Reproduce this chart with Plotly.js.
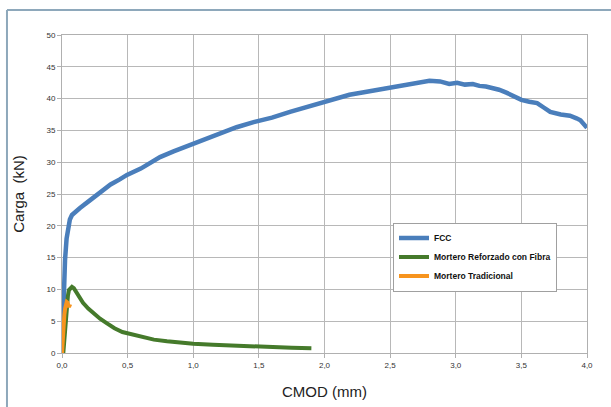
<!DOCTYPE html>
<html>
<head>
<meta charset="utf-8">
<script src="https://cdn.plot.ly/plotly-3.0.1.min.js"></script>
<style>html,body{margin:0;padding:0;background:#fff;}#chart{width:611px;height:407px;}</style>
</head>
<body>
<div id="chart"></div>
<script>
// FCC
const fccX = [0, 0.005, 0.012, 0.023, 0.035, 0.046, 0.06, 0.076, 0.1, 0.137, 0.2, 0.236, 0.29, 0.31, 0.37, 0.44, 0.495, 0.6, 0.747, 0.85, 0.975, 1.1, 1.2, 1.33, 1.46, 1.6, 1.737, 1.85, 1.966, 2.08, 2.19, 2.3, 2.42, 2.55, 2.65, 2.73, 2.8, 2.88, 2.95, 3.01, 3.07, 3.13, 3.18, 3.23, 3.28, 3.33, 3.39, 3.45, 3.5, 3.56, 3.62, 3.67, 3.72, 3.8, 3.87, 3.92, 3.95, 4.0];
const fccY = [0, 4.5, 9.5, 14.6, 18.0, 19.8, 21.0, 21.7, 22.2, 22.8, 23.8, 24.4, 25.3, 25.6, 26.5, 27.3, 28.0, 29.0, 30.8, 31.7, 32.7, 33.7, 34.6, 35.5, 36.3, 37.0, 37.9, 38.6, 39.3, 40.0, 40.6, 41.0, 41.4, 41.9, 42.2, 42.5, 42.8, 42.7, 42.3, 42.5, 42.2, 42.3, 42.0, 41.9, 41.7, 41.4, 40.9, 40.3, 39.8, 39.5, 39.3, 38.6, 37.9, 37.5, 37.3, 36.9, 36.6, 35.4];
// Mortero Reforzado con Fibra
const mrfX = [0.01, 0.02, 0.03, 0.038, 0.045, 0.053, 0.065, 0.076, 0.09, 0.11, 0.13, 0.16, 0.2, 0.236, 0.29, 0.34, 0.4, 0.46, 0.52, 0.59, 0.7, 0.8, 0.9, 1.0, 1.15, 1.3, 1.45, 1.6, 1.75, 1.9];
const mrfY = [0, 3.0, 5.8, 7.9, 9.0, 9.9, 10.3, 10.4, 10.2, 9.6, 8.8, 7.9, 7.0, 6.3, 5.4, 4.7, 3.9, 3.3, 3.0, 2.6, 2.1, 1.85, 1.6, 1.45, 1.3, 1.15, 1.0, 0.9, 0.82, 0.75];
// Mortero Tradicional
const mtX = [0, 0.004, 0.008, 0.012, 0.018, 0.024, 0.03, 0.036, 0.042, 0.048, 0.053, 0.058, 0.062];
const mtY = [0, 2.0, 3.5, 4.8, 6.0, 7.0, 7.6, 8.0, 7.9, 7.4, 7.2, 7.5, 7.3];

const xTickVals = [0, 0.5, 1.0, 1.5, 2.0, 2.5, 3.0, 3.5, 4.0];
const xTickText = ["0,0", "0,5", "1,0", "1,5", "2,0", "2,5", "3,0", "3,5", "4,0"];
const yTickVals = [0, 5, 10, 15, 20, 25, 30, 35, 40, 45, 50];

const traces = [
  {x: fccX, y: fccY, name: "FCC", mode: "lines", line: {color: "#4a7ebb", width: 4.5}},
  {x: mrfX, y: mrfY, name: "Mortero Reforzado con Fibra", mode: "lines", line: {color: "#457a2b", width: 4}},
  {x: mtX, y: mtY, name: "Mortero Tradicional", mode: "lines", line: {color: "#f7941e", width: 4}}
];

const frameColor = "#8ea8bb";
const layout = {
  width: 611, height: 407,
  margin: {l: 62, r: 24, t: 35, b: 54},
  paper_bgcolor: "#ffffff", plot_bgcolor: "#ffffff",
  font: {family: "Liberation Sans, Arial, sans-serif", color: "#333"},
  showlegend: true,
  legend: {
    x: 0.6305, y: 0.41, xanchor: "left", yanchor: "top",
    bordercolor: "#a0a0a0", borderwidth: 1, bgcolor: "#ffffff",
    font: {family: "Liberation Sans, sans-serif", size: 8.5, color: "#111", weight: 600},
    itemwidth: 30, tracegroupgap: 0
  },
  xaxis: {
    range: [0, 4], tickvals: xTickVals, ticktext: xTickText,
    showgrid: true, gridcolor: "#b8b8b8", gridwidth: 1,
    showline: true, linecolor: "#b0b0b0", linewidth: 1, mirror: true,
    ticks: "outside", ticklen: 4, tickcolor: "#b0b0b0",
    zeroline: false, tickfont: {size: 8, color: "#333"},
    title: {text: "CMOD (mm)", font: {size: 15, color: "#222"}, standoff: 17}
  },
  yaxis: {
    range: [0, 50], tickvals: yTickVals,
    showgrid: true, gridcolor: "#b8b8b8", gridwidth: 1,
    showline: true, linecolor: "#b0b0b0", linewidth: 1, mirror: true,
    ticks: "outside", ticklen: 4, tickcolor: "#b0b0b0",
    zeroline: false, tickfont: {size: 8, color: "#333"},
    title: {text: "Carga  (kN)", font: {size: 15, color: "#222"}, standoff: 18}
  },
  shapes: [
    {type: "line", xref: "paper", yref: "paper", x0: -0.1048, x1: 1.05, y0: 1.0786, y1: 1.0786, line: {color: frameColor, width: 2}},
    {type: "line", xref: "paper", yref: "paper", x0: -0.1048, x1: -0.1048, y0: 1.0786, y1: -0.18, line: {color: frameColor, width: 2}}
  ]
};

Plotly.newPlot("chart", traces, layout, {displayModeBar: false, staticPlot: true});
</script>
</body>
</html>
